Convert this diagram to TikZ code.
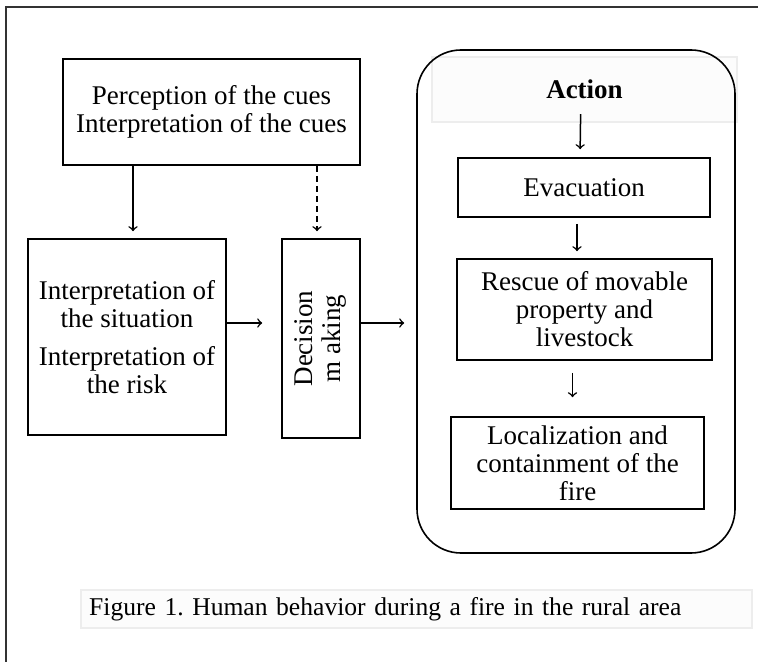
\documentclass[tikz,border=0pt]{standalone}
\usepackage{fontspec}
\setmainfont{Liberation Serif}
\usepackage{tikz}
\usetikzlibrary{ arrows, calc, positioning }
\tikzset{
>=to, % thin arrow heads
every node/.style={inner sep=1pt},
box/.style={draw, line width=0.8pt, align=center, font=\fontsize{13.5}{14}\selectfont}, % plain boxes
faint/.style={draw=black!7, line width=1.2pt, fill=black!1}, % pale text frames
link/.style={->, line width=0.75pt},
}

\begin{document}
\begin{tikzpicture}[x=0.5pt, y=-0.5pt]
  \useasboundingbox (0,0) rectangle (758,662);
  \draw[line width=0.8pt, black!80] (758,7) -- (6,7) -- (6,662); % frame

  \node[box, minimum width=148.5pt, minimum height=53pt] (cues) at (211.5,112)
    {Perception of the cues\\Interpretation of the cues};
  \node[box, minimum width=99pt, minimum height=98pt] (interp) at (127,337)
    {Interpretation of\\the situation\\[5pt]Interpretation of\\the risk};
  \node[box, minimum width=39pt, minimum height=99.5pt] (decision) at (321,338.5)
    {\rotatebox{90}{\begin{tabular}{@{}c@{}}Decision\\m aking\end{tabular}}};

  \node[faint, minimum width=152.5pt, minimum height=32.5pt, font=\fontsize{13.5}{14}\selectfont\bfseries] (actlabel) at (584.5,89.5) {Action};
  \node[draw, line width=0.8pt, rounded corners=22pt, minimum width=159pt, minimum height=251.5pt] (action) at (576,301.5) {};
  \node[box, minimum width=126pt, minimum height=29.5pt] (evac) at (584,187.5) {Evacuation};
  \node[box, minimum width=127.5pt, minimum height=50.5pt] (rescue) at (584.5,309.5)
    {Rescue of movable\\property and\\livestock};
  \node[box, minimum width=126.5pt, minimum height=46pt] (local) at (577.5,463)
    {Localization and\\containment of the\\fire};

  \node[faint, anchor=west, inner xsep=4pt, text width=327.5pt, minimum height=19pt, align=left, font=\fontsize{12.8}{14}\selectfont\frenchspacing] (caption) at (80,609)
    {Figure 1. Human behavior during a fire in the rural area};

  \draw[link, shorten >=3.5pt] ([xshift=-39.25pt]cues.south) -- ([xshift=3pt]interp.north);
  \draw[link, dashed, dash pattern=on 3pt off 2pt, shorten >=3.5pt] ([xshift=52.75pt]cues.south) -- ([xshift=-2pt]decision.north);
  \draw[link, shorten >=9.5pt] ([yshift=7pt]interp.east) -- ([yshift=7pt]interp.east -| decision.west);
  \draw[link, shorten >=6pt] ([yshift=7.75pt]decision.east) -- ([yshift=7.75pt]decision.east -| action.west);
  \draw[link, shorten <=-4.5pt, shorten >=4pt] ([xshift=-2pt]actlabel.south) -- ([xshift=-2pt]evac.north);
  \draw[link, shorten <=3pt, shorten >=3.5pt] ([xshift=-3.5pt]evac.south) -- ([xshift=-3.5pt]evac.south |- rescue.north);
  \draw[link, shorten <=6pt, shorten >=9.5pt] ([xshift=-6pt]rescue.south) -- ([xshift=-6pt]rescue.south |- local.north);
\end{tikzpicture}
\end{document}
